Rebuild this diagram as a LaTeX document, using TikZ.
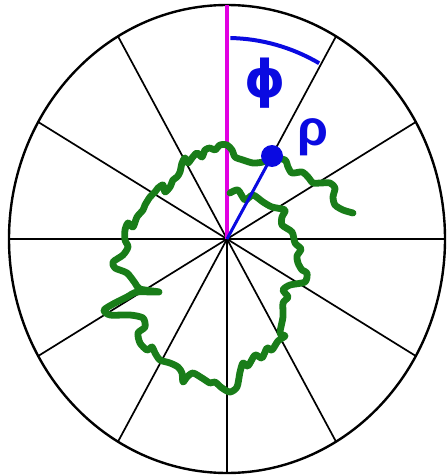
\documentclass[tikz,border=0pt]{standalone}
\usepackage{fontspec}
\setmainfont{Liberation Sans}
\newfontfamily\phifont{DejaVu Sans}
\definecolor{trackgreen}{RGB}{25,125,25}
\definecolor{axmagenta}{RGB}{225,0,225}
\definecolor{polblue}{RGB}{10,10,225}
\begin{document}
\begin{tikzpicture}[x=0.5pt,y=-0.5pt,
  spoke/.style={line width=0.85pt},
  greek/.style={text=polblue,font=\fontsize{25}{25}\selectfont\bfseries}]
\useasboundingbox (0,0) rectangle (446,476);
\coordinate (ctr) at (227,239);
% outer circle and the twelve spokes
\draw[line width=1.2pt] (ctr) ellipse [x radius=218, y radius=234];
\foreach \a in {0,30,...,330}
  \draw[spoke] (ctr) -- ++({218*cos(\a)},{234*sin(\a)});
% reference direction
\draw[axmagenta,line width=1.6pt] (ctr) -- ++(0,-234);
% angle arc
\draw[polblue,line width=2pt] (ctr) ++(-89:190 and 201) arc[start angle=-89, end angle=-61, x radius=190, y radius=201];
\node[greek,font=\fontsize{26}{26}\selectfont\phifont\bfseries] (phi) at (265,83) {ϕ};
% trajectory
\draw[trackgreen,line width=3.4pt,line join=round,line cap=round] plot[smooth,tension=0.45] coordinates {
 (230,193) (238,190) (245,200) (253,195) (263,202) (272,207) (285,210) (282,217)
 (282,225) (292,232) (295,243) (301,249) (297,256) (298,263) (302,270) (307,273)
 (305,282) (290,285) (283,290) (288,297) (283,303) (283,317) (280,333) (285,336)
 (278,341) (272,350) (267,348) (262,358) (255,355) (248,366) (243,363) (240,372)
 (237,387) (230,392) (222,388) (215,382) (210,383) (202,378) (193,373) (187,377)
 (183,382) (182,373) (178,367) (170,363) (160,360) (155,353) (152,347) (147,350)
 (140,343) (138,333) (145,327) (143,318) (130,315) (110,315) (104,310) (115,303)
 (127,297) (137,292) (159,292) (140,289) (135,283) (127,273) (115,268) (113,262)
 (123,255) (128,247) (125,240) (125,230) (128,223) (133,227) (137,217) (143,210)
 (145,205) (150,197) (155,192) (158,188) (163,185) (165,192) (170,187) (173,180)
 (177,177) (180,172) (182,163) (185,158) (188,163) (192,158) (197,153) (202,157)
 (205,150) (210,148) (215,150) (220,145) (227,145) (232,150) (235,157) (243,160)
 (253,163) (263,162) (273,158) (285,160) (288,167) (292,173) (302,172) (308,177)
 (313,183) (320,183) (330,183) (335,188) (333,197) (335,205) (343,210) (353,213)};
% radius to the point
\node[circle,fill=polblue,inner sep=0pt,minimum size=11pt] (pt) at (272,156) {};
\draw[polblue,line width=1.5pt] (ctr) -- (pt.center);
\node[greek] (rho) at (313,137) {ρ};
\end{tikzpicture}
\end{document}
